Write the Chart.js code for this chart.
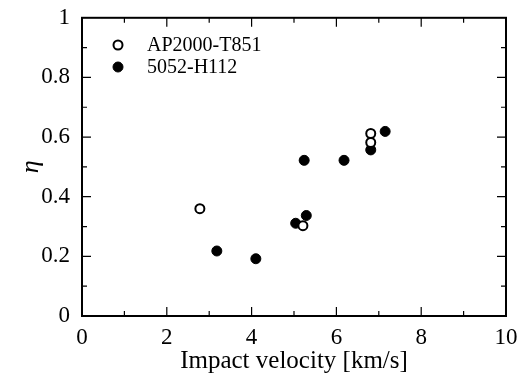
<!DOCTYPE html>
<html>
<head>
<meta charset="utf-8">
<script src="https://cdn.jsdelivr.net/npm/chart.js@4"></script>
<style>
  body { margin: 0; background: #fff; }
  #wrap { width: 520px; height: 380px; }
</style>
</head>
<body>
<div id="wrap"><canvas id="chart" width="520" height="380"></canvas></div>
<script>
// data
const seriesNames = ['AP2000-T851', '5052-H112'];
const apVelocity = [2.78, 5.21, 6.81, 6.81];
const apEta = [0.36, 0.303, 0.612, 0.582];
const alVelocity = [3.18, 4.10, 5.04, 5.29, 5.24, 6.18, 6.81, 7.15];
const alEta = [0.218, 0.192, 0.311, 0.337, 0.522, 0.522, 0.557, 0.619];
const xTickLabels = ['0', '2', '4', '6', '8', '10'];
const yTickLabels = ['0', '0.2', '0.4', '0.6', '0.8', '1'];

const font = "'Liberation Serif', 'Times New Roman', serif";
Chart.defaults.font.family = font;
Chart.defaults.color = '#000';

function toPoints(xs, ys) {
    return xs.map((x, i) => ({ x: x, y: ys[i] }));
}

// inward ticks on all four sides + frame
const frameTicks = {
    id: 'frameTicks',
    afterDraw(chart) {
        const ctx = chart.ctx;
        const a = chart.chartArea;
        const xs = chart.scales.x, ys = chart.scales.y;
        ctx.save();
        ctx.strokeStyle = '#000';
        ctx.lineWidth = 2;
        ctx.strokeRect(a.left, a.top, a.right - a.left, a.bottom - a.top);
        ctx.lineWidth = 1.2;
        ctx.beginPath();
        for (let v = 1; v < 10; v++) {
            const px = xs.getPixelForValue(v);
            const len = v % 2 === 0 ? 9 : 5;
            ctx.moveTo(px, a.bottom); ctx.lineTo(px, a.bottom - len);
            ctx.moveTo(px, a.top); ctx.lineTo(px, a.top + len);
        }
        for (let k = 1; k < 10; k++) {
            const py = ys.getPixelForValue(k / 10);
            const len = k % 2 === 0 ? 9 : 5;
            ctx.moveTo(a.left, py); ctx.lineTo(a.left + len, py);
            ctx.moveTo(a.right, py); ctx.lineTo(a.right - len, py);
        }
        ctx.stroke();
        ctx.restore();
    }
};

// legend in upper left of the plot
const innerLegend = {
    id: 'innerLegend',
    afterDraw(chart) {
        const ctx = chart.ctx;
        ctx.save();
        ctx.font = '20px ' + font;
        ctx.textBaseline = 'middle';
        chart.data.datasets.forEach((ds, i) => {
            const y = 45 + i * 22;
            ctx.beginPath();
            ctx.arc(118, y, ds.pointRadius, 0, Math.PI * 2);
            ctx.fillStyle = ds.backgroundColor;
            ctx.fill();
            ctx.lineWidth = ds.borderWidth;
            ctx.strokeStyle = ds.borderColor;
            ctx.stroke();
            ctx.fillStyle = '#000';
            ctx.fillText(ds.label, 147, y + 1);
        });
        ctx.restore();
    }
};

new Chart(document.getElementById('chart'), {
    type: 'scatter',
    data: {
        datasets: [{
            label: seriesNames[0],
            data: toPoints(apVelocity, apEta),
            backgroundColor: '#fff',
            borderColor: '#000',
            borderWidth: 2,
            pointRadius: 4.5
        }, {
            label: seriesNames[1],
            data: toPoints(alVelocity, alEta),
            backgroundColor: '#000',
            borderColor: '#000',
            borderWidth: 1,
            pointRadius: 5
        }]
    },
    options: {
        responsive: false,
        animation: false,
        layout: { padding: { top: 15, right: 14, left: 0, bottom: 0 } },
        plugins: {
            legend: { display: false },
            tooltip: { enabled: false }
        },
        scales: {
            x: {
                min: 0, max: 10,
                grid: { display: false },
                border: { display: false },
                ticks: {
                    stepSize: 1,
                    autoSkip: false,
                    maxRotation: 0,
                    padding: 0,
                    font: { family: font, size: 23 },
                    callback: v => v % 2 === 0 ? xTickLabels[v / 2] : ''
                },
                title: {
                    display: true,
                    text: 'Impact velocity [km/s]',
                    font: { family: font, size: 25 },
                    padding: { top: 2 }
                },
                afterFit: s => { s.height = 64; }
            },
            y: {
                min: 0, max: 1,
                grid: { display: false },
                border: { display: false },
                ticks: {
                    stepSize: 0.1,
                    autoSkip: false,
                    padding: 4,
                    font: { family: font, size: 23 },
                    callback: v => {
                        const k = Math.round(v * 10);
                        return k % 2 === 0 ? yTickLabels[k / 2] : '';
                    }
                },
                title: {
                    display: true,
                    text: 'η',
                    font: { family: font, size: 26, style: 'italic' },
                    padding: { top: 16, bottom: 0 }
                },
                afterFit: s => { s.width = 82; }
            }
        }
    },
    plugins: [frameTicks, innerLegend]
});
</script>
</body>
</html>
